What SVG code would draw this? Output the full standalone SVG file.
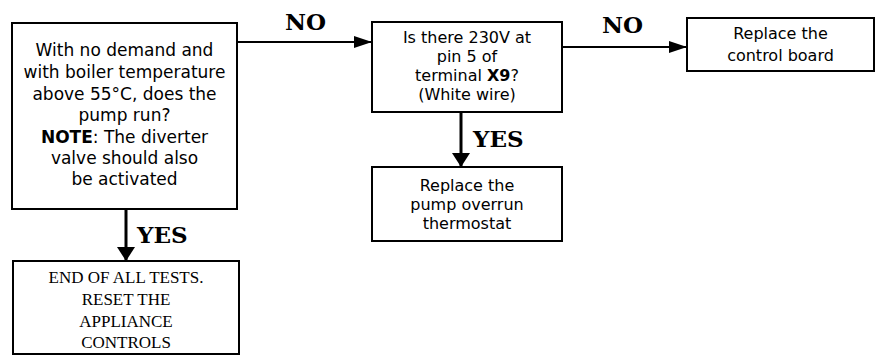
<svg xmlns="http://www.w3.org/2000/svg" width="880" height="357" viewBox="0 0 880 357">
<style>
.box{fill:#fff;stroke:#000;stroke-width:2}
.t{font-family:"DejaVu Sans","Noto Sans",sans-serif;font-size:16px;text-anchor:middle;fill:#000}
.t1{font-size:17px}
.tb{font-weight:bold}
.s{font-family:"Liberation Serif",serif;font-size:17px;text-anchor:middle;fill:#000}
.lab{font-family:"DejaVu Serif",serif;font-weight:bold;font-size:23px;fill:#000}
.ln{stroke:#000;stroke-width:2;fill:none}
.lv{stroke:#000;stroke-width:3;fill:none}
</style>
<defs>
<marker id="ah" viewBox="0 0 18 12" refX="18" refY="6" markerWidth="18" markerHeight="12" markerUnits="userSpaceOnUse" orient="auto">
<path d="M0,0 L18,6 L0,12 Z" fill="#000"/>
</marker>
<marker id="av" viewBox="0 0 14 18" refX="14" refY="9" markerWidth="14" markerHeight="18" markerUnits="userSpaceOnUse" orient="auto">
<path d="M0,0 L14,9 L0,18 Z" fill="#000"/>
</marker>
</defs>
<g id="connectors">
<path class="ln" d="M237,42 H372" marker-end="url(#ah)"/>
<path class="ln" d="M562,47 H687" marker-end="url(#ah)"/>
<path class="lv" d="M461,112 V167" marker-end="url(#av)"/>
<path class="lv" d="M126,209 V261" marker-end="url(#av)"/>
<text class="lab" x="285" y="30">NO</text>
<text class="lab" x="602" y="33">NO</text>
<text class="lab" x="473" y="147">YES</text>
<text class="lab" x="137" y="243">YES</text>
</g>
<g id="q1">
<rect class="box" x="12" y="23" width="225" height="186"/>
<text class="t t1" x="124.5" y="56">With no demand and</text>
<text class="t t1" x="124.5" y="78">with boiler temperature</text>
<text class="t t1" x="124.5" y="100">above 55°C, does the</text>
<text class="t t1" x="124.5" y="121">pump run?</text>
<text class="t t1" x="124.5" y="143"><tspan class="tb">NOTE</tspan>: The diverter</text>
<text class="t t1" x="124.5" y="164">valve should also</text>
<text class="t t1" x="124.5" y="185">be activated</text>
</g>
<g id="q2">
<rect class="box" x="372" y="22" width="190" height="90"/>
<text class="t" x="467" y="43">Is there 230V at</text>
<text class="t" x="467" y="62">pin 5 of</text>
<text class="t" x="467" y="81">terminal <tspan class="tb">X9</tspan>?</text>
<text class="t" x="467" y="100">(White wire)</text>
</g>
<g id="r1">
<rect class="box" x="687" y="18" width="187" height="53"/>
<text class="t" x="780.5" y="39">Replace the</text>
<text class="t" x="780.5" y="61">control board</text>
</g>
<g id="r2">
<rect class="box" x="372" y="167" width="190" height="74"/>
<text class="t" x="467" y="191">Replace the</text>
<text class="t" x="467" y="210">pump overrun</text>
<text class="t" x="467" y="229">thermostat</text>
</g>
<g id="end">
<rect class="box" x="13" y="261" width="226" height="93"/>
<text class="s" x="126" y="283">END OF ALL TESTS.</text>
<text class="s" x="126" y="305">RESET THE</text>
<text class="s" x="126" y="327">APPLIANCE</text>
<text class="s" x="126" y="348">CONTROLS</text>
</g>
</svg>
